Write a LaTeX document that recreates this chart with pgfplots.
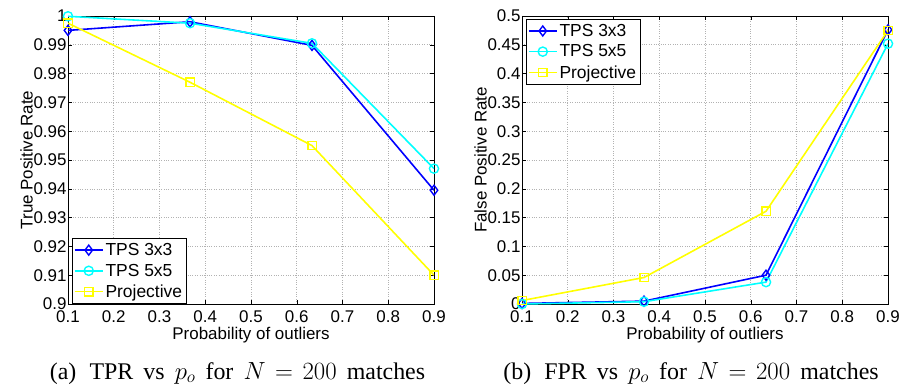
\documentclass[border=0pt]{standalone}
\usepackage{pgfplots}
\pgfplotsset{compat=1.18}
\usepackage{fontspec}
\setmainfont{Liberation Serif}
\newfontfamily\axfont{Liberation Sans}
\definecolor{mblue}{RGB}{0,0,255}
\definecolor{mcyan}{RGB}{0,255,255}
\definecolor{myellow}{RGB}{255,255,0}
\begin{document}
\begin{tikzpicture}[x=1bp,y=1bp]
\path[use as bounding box] (0,0) rectangle (906,389);
\pgfplotsset{
  myax/.style={
    scale only axis, width=366bp, height=288bp,
    xmin=0.1, xmax=0.9,
    xtick={0.1,0.2,...,0.9},
    grid=major,
    major grid style={gray!60, dotted, line width=0.6pt},
    tick align=inside, tick pos=both,
    tick style={black, line width=0.5pt},
    major tick length=4bp,
    axis line style={black, line width=0.6pt},
    /pgf/number format/assume math mode=true,
    tick label style={font=\axfont\fontsize{17}{19}\selectfont},
    label style={font=\axfont\fontsize{17}{19}\selectfont},
    xticklabel style={/pgf/number format/fixed, /pgf/number format/precision=1, yshift=-3bp},
    yticklabel style={/pgf/number format/fixed, /pgf/number format/precision=2, xshift=2bp},
    xlabel={Probability of outliers},
    xlabel style={yshift=2bp},
    ylabel style={yshift=-6bp},
    legend cell align=left,
    legend style={draw=black, line width=0.6pt, font=\axfont\fontsize{17.5}{19}\selectfont, inner xsep=2pt, inner ysep=3pt, row sep=3pt},
    legend image code/.code={
      \draw[mark repeat=2,mark phase=2] plot coordinates {(0bp,0bp) (14bp,0bp) (28bp,0bp)};},
  },
  s1/.style={color=mblue, line width=1.6pt, mark=diamond, mark size=5bp, mark options={solid, line width=1.4pt}},
  s2/.style={color=mcyan, line width=1.6pt, mark=o, mark size=4.6bp, mark options={solid, line width=1.4pt}},
  s3/.style={color=myellow, line width=1.6pt, mark=square, mark size=4.2bp, mark options={solid, line width=1.4pt}},
}
\begin{axis}[myax, at={(68bp,85bp)}, anchor=south west,
  ymin=0.9, ymax=1, ytick={0.9,0.91,...,1.001},
  ylabel={True Positive Rate},
  legend style={at={(0.01,0.0)}, anchor=south west}]
\addplot[s1] coordinates {(0.1,0.9950) (0.36667,0.9980) (0.63333,0.9898) (0.9,0.9395)};
\addlegendentry{TPS 3x3}
\addplot[s2] coordinates {(0.1,0.9999) (0.36667,0.9975) (0.63333,0.9905) (0.9,0.9470)};
\addlegendentry{TPS 5x5}
\addplot[s3] coordinates {(0.1,0.9975) (0.36667,0.9770) (0.63333,0.9550) (0.9,0.9100)};
\addlegendentry{Projective}
\end{axis}
\begin{axis}[myax, at={(522bp,85bp)}, anchor=south west,
  ymin=0, ymax=0.5, ytick={0,0.05,...,0.501},
  ylabel={False Positive Rate},
  legend style={at={(0.01,0.99)}, anchor=north west}]
\addplot[s1] coordinates {(0.1,0.001) (0.36667,0.005) (0.63333,0.050) (0.9,0.476)};
\addlegendentry{TPS 3x3}
\addplot[s2] coordinates {(0.1,0.000) (0.36667,0.004) (0.63333,0.038) (0.9,0.452)};
\addlegendentry{TPS 5x5}
\addplot[s3] coordinates {(0.1,0.006) (0.36667,0.046) (0.63333,0.161) (0.9,0.475)};
\addlegendentry{Projective}
\end{axis}
\node[font=\fontsize{24}{26}\selectfont, anchor=base, inner sep=0pt] at (237.5,10) {\spaceskip=0.42em\relax(a)\hspace{0.55em}TPR vs $p_o$ for $N\mskip2mu=\mskip2mu200$ matches};
\node[font=\fontsize{24}{26}\selectfont, anchor=base, inner sep=0pt] at (691,10) {\spaceskip=0.42em\relax(b)\hspace{0.55em}FPR vs $p_o$ for $N\mskip2mu=\mskip2mu200$ matches};
\end{tikzpicture}
\end{document}
